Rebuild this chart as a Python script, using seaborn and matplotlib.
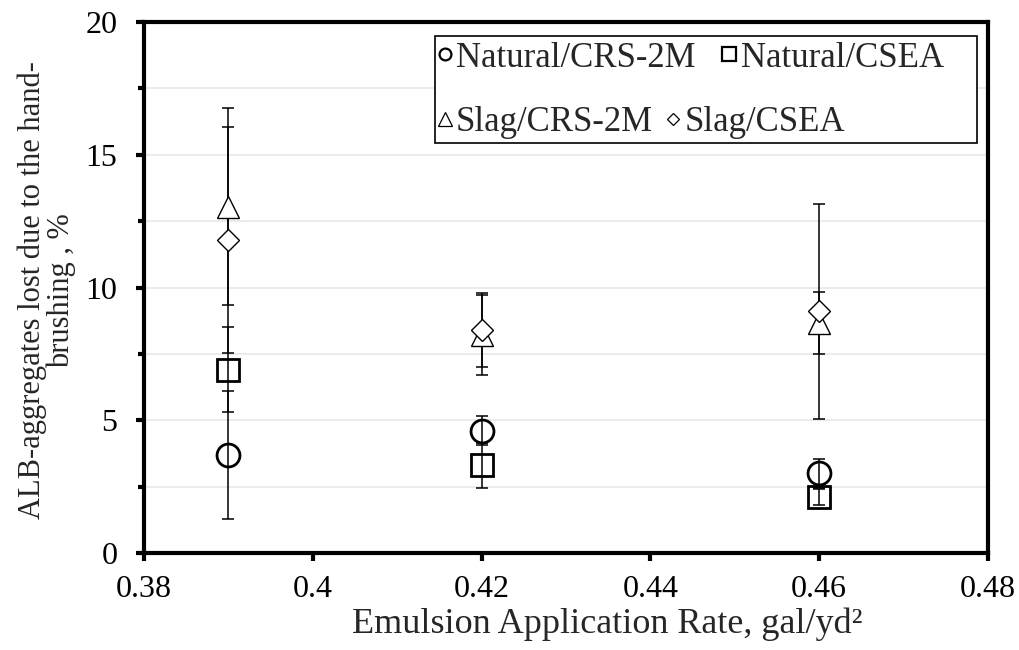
import matplotlib
matplotlib.use("Agg")
import matplotlib.pyplot as plt
from matplotlib.lines import Line2D
from matplotlib.patches import Rectangle
from matplotlib.ticker import MultipleLocator
import seaborn as sns
import pandas as pd

# Data
rates = [0.39, 0.42, 0.46]

natural_crs = [3.7, 4.6, 3.0]
natural_crs_err = [2.4, 0.55, 0.55]

natural_csea = [6.9, 3.3, 2.1]
natural_csea_err = [1.6, 0.85, 0.3]

slag_crs = [13.05, 8.2, 8.65]
slag_crs_err = [3.7, 1.5, 1.17]

slag_csea = [11.8, 8.4, 9.1]
slag_csea_err = [4.25, 1.4, 4.05]

groups = ["Natural/CRS-2M", "Natural/CSEA", "Slag/CRS-2M", "Slag/CSEA"]
values = [natural_crs, natural_csea, slag_crs, slag_csea]
errors = [natural_crs_err, natural_csea_err, slag_crs_err, slag_csea_err]
markers = {"Natural/CRS-2M": "o", "Natural/CSEA": "s", "Slag/CRS-2M": "^", "Slag/CSEA": "D"}
sizes = {"Natural/CRS-2M": 16.5, "Natural/CSEA": 16, "Slag/CRS-2M": 16, "Slag/CSEA": 11.2}
leg_sizes = {"Natural/CRS-2M": 8.5, "Natural/CSEA": 9.5, "Slag/CRS-2M": 9.5, "Slag/CSEA": 6.5}
edge_w = {"Natural/CRS-2M": 2.0, "Natural/CSEA": 2.0, "Slag/CRS-2M": 1.0, "Slag/CSEA": 1.0}

rows = []
for g, v, e in zip(groups, values, errors):
    for x, y, err in zip(rates, v, e):
        rows.append({"rate": x, "loss": y, "err": err, "group": g})
df = pd.DataFrame(rows)

sns.set_theme(style="white")
plt.rcParams["font.family"] = ["Liberation Serif", "DejaVu Serif"]

fig = plt.figure(figsize=(10.19, 6.5), dpi=100)
ax = fig.add_axes([0.1413, 0.1492, 0.8283, 0.8169])

# error bars
for g in groups:
    d = df[df["group"] == g]
    ax.errorbar(d["rate"], d["loss"], yerr=d["err"], fmt="none", ecolor="black",
                elinewidth=1.1, capsize=4.5, capthick=1.1, zorder=2)

# markers
for g in groups:
    d = df[df["group"] == g]
    sns.lineplot(data=d, x="rate", y="loss", ax=ax, marker=markers[g], linestyle="",
                 markersize=sizes[g], markerfacecolor="white" if g.startswith("Slag") else "none",
                 markeredgecolor="black", markeredgewidth=edge_w[g], color="black",
                 zorder=3, errorbar=None, legend=False)


def handle(g):
    return Line2D([], [], linestyle="", marker=markers[g], markersize=leg_sizes[g],
                  markerfacecolor="white", markeredgecolor="black",
                  markeredgewidth=1.6 if g.startswith("Natural") else 0.9)


# legend box, then one row of entries per legend (entries flow like the original)
ax.add_patch(Rectangle((0.345, 0.772), 0.642, 0.202, transform=ax.transAxes,
                       facecolor="white", edgecolor="black", lw=1.2, zorder=4))
row1 = ax.legend([handle(g) for g in groups[:2]], groups[:2], ncol=2, loc="center left",
                 bbox_to_anchor=(0.347, 0.932), fontsize=25, frameon=False,
                 handlelength=0.45, handletextpad=0.1, columnspacing=0.75,
                 borderpad=0, borderaxespad=0)
row1.set_zorder(5)
ax.add_artist(row1)
row2 = ax.legend([handle(g) for g in groups[2:]], groups[2:], ncol=2, loc="center left",
                 bbox_to_anchor=(0.347, 0.81), fontsize=25, frameon=False,
                 handlelength=0.45, handletextpad=0.1, columnspacing=0.35,
                 borderpad=0, borderaxespad=0)
row2.set_zorder(5)

ax.set_xlim(0.38, 0.48)
ax.set_ylim(0, 20)
ax.set_xticks([0.38, 0.40, 0.42, 0.44, 0.46, 0.48])
ax.set_xticklabels(["0.38", "0.4", "0.42", "0.44", "0.46", "0.48"])
ax.yaxis.set_major_locator(MultipleLocator(5))
ax.yaxis.set_minor_locator(MultipleLocator(2.5))

ax.grid(axis="y", which="both", color="#e8e8e8", lw=1.2, zorder=0)
ax.set_axisbelow(True)

for s in ax.spines.values():
    s.set_color("black")
    s.set_linewidth(3.0)
ax.tick_params(axis="y", which="major", direction="out", length=6, width=3,
               labelsize=23, colors="black", pad=13, left=True)
ax.tick_params(axis="y", which="minor", direction="out", length=4, width=3,
               colors="black", left=True)
ax.tick_params(axis="x", which="major", direction="out", length=6, width=3,
               labelsize=23, colors="black", pad=10, bottom=True)

ax.set_xlabel("Emulsion Application Rate, gal/yd²", fontsize=26)
ax.xaxis.set_label_coords(0.549, -0.102)
ax.set_ylabel("ALB-aggregates lost due to the hand-\nbrushing , %", fontsize=22,
              linespacing=1.0)
ax.yaxis.set_label_coords(-0.08, 0.495)

fig.savefig("out.png", dpi=100)
